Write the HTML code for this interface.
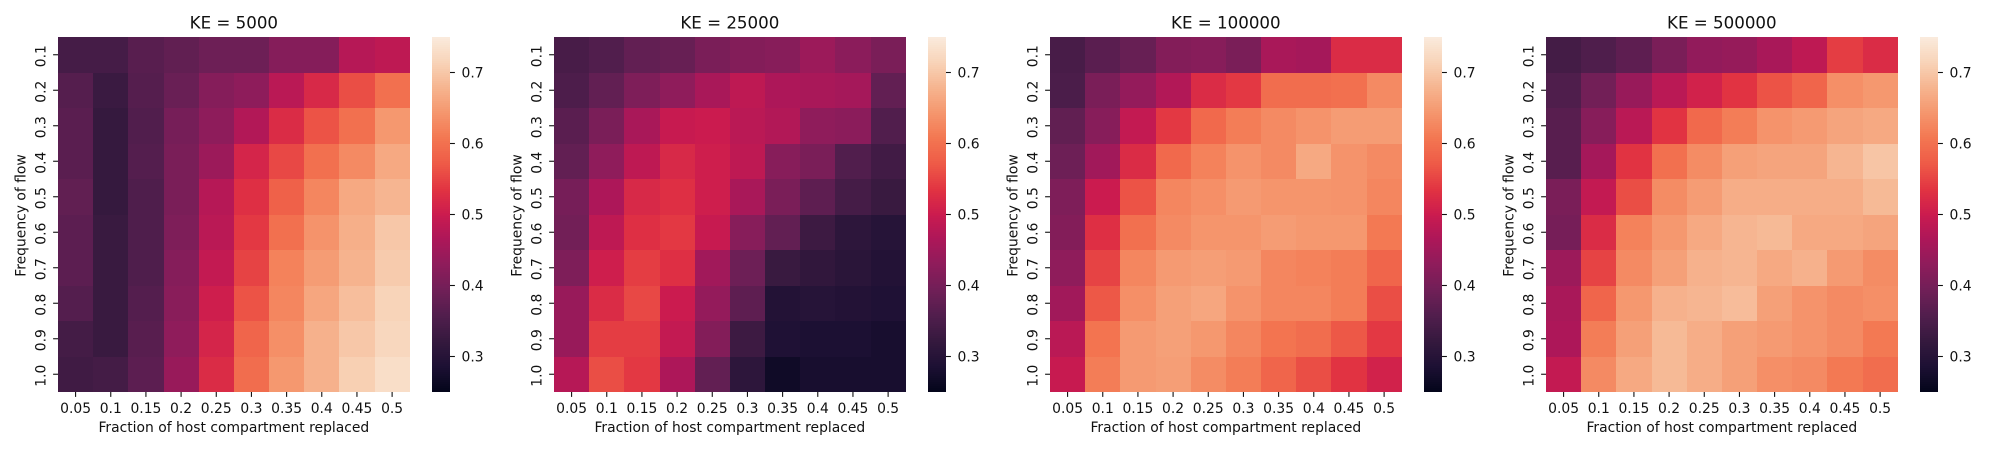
<!DOCTYPE html>
<html lang="en">
<head>
<meta charset="utf-8">
<title>Heatmaps by KE</title>
<style>
  html, body { margin: 0; padding: 0; background: #fff; width: 2000px; height: 450px; overflow: hidden; }
  svg { display: block; }
  text { font-family: "DejaVu Sans", "Liberation Sans", sans-serif; fill: #111; }
</style>
</head>
<body>
<svg id="figure" xmlns="http://www.w3.org/2000/svg" width="2000" height="450" viewBox="0 0 2000 450"></svg>
<script>
const xCategories = ["0.05","0.1","0.15","0.2","0.25","0.3","0.35","0.4","0.45","0.5"];
const yCategories = ["0.1","0.2","0.3","0.4","0.5","0.6","0.7","0.8","0.9","1.0"];
const colorbarTicks = [0.3,0.4,0.5,0.6,0.7];
const colorMin = 0.25;
const colorMax = 0.75;
const panelTitles = ["KE = 5000","KE = 25000","KE = 100000","KE = 500000"];
const xAxisTitle = "Fraction of host compartment replaced";
const yAxisTitle = "Frequency of flow";

const valuesKE5000 = [
  [.342,.342,.365,.375,.39,.39,.418,.418,.475,.485],
  [.362,.328,.362,.385,.418,.428,.48,.52,.56,.60],
  [.367,.322,.357,.4,.428,.47,.525,.565,.60,.645],
  [.367,.322,.36,.405,.445,.515,.555,.60,.63,.665],
  [.375,.322,.355,.405,.475,.53,.58,.625,.665,.68],
  [.37,.327,.355,.41,.48,.54,.60,.64,.672,.7],
  [.37,.327,.355,.418,.49,.55,.62,.65,.677,.705],
  [.36,.327,.36,.422,.505,.565,.625,.662,.69,.715],
  [.34,.327,.365,.43,.515,.585,.635,.675,.7,.72],
  [.335,.34,.37,.44,.525,.595,.645,.675,.71,.73]
];
const valuesKE25000 = [
  [.345,.357,.377,.382,.405,.415,.42,.445,.425,.405],
  [.352,.377,.41,.43,.46,.485,.465,.46,.455,.377],
  [.367,.405,.46,.495,.50,.48,.47,.43,.425,.357],
  [.377,.43,.485,.52,.505,.485,.42,.405,.357,.337],
  [.4,.465,.52,.53,.505,.46,.405,.372,.342,.327],
  [.395,.485,.53,.54,.495,.42,.377,.332,.31,.3],
  [.41,.505,.545,.53,.45,.39,.327,.315,.305,.295],
  [.44,.525,.555,.50,.435,.372,.295,.3,.295,.29],
  [.44,.545,.545,.49,.415,.332,.29,.285,.285,.28],
  [.475,.56,.54,.465,.377,.31,.268,.28,.28,.28]
];
const valuesKE100000 = [
  [.345,.367,.382,.415,.42,.405,.46,.455,.525,.525],
  [.35,.405,.435,.47,.525,.54,.595,.595,.60,.63],
  [.375,.42,.49,.54,.59,.615,.63,.64,.65,.65],
  [.39,.45,.525,.59,.62,.64,.63,.665,.64,.63],
  [.41,.50,.565,.625,.635,.648,.642,.642,.64,.625],
  [.415,.53,.60,.63,.642,.642,.65,.645,.645,.61],
  [.43,.55,.625,.648,.652,.648,.625,.62,.615,.585],
  [.45,.57,.635,.655,.662,.64,.625,.625,.615,.56],
  [.48,.605,.648,.655,.645,.625,.605,.595,.57,.54],
  [.495,.615,.648,.652,.632,.615,.585,.56,.535,.51]
];
const valuesKE500000 = [
  [.34,.355,.372,.405,.433,.438,.46,.485,.545,.525],
  [.355,.395,.44,.48,.51,.535,.565,.585,.635,.645],
  [.365,.42,.48,.535,.59,.615,.64,.648,.66,.665],
  [.365,.455,.535,.60,.632,.655,.66,.66,.68,.698],
  [.405,.49,.56,.632,.65,.67,.67,.67,.67,.685],
  [.4,.525,.62,.645,.665,.68,.685,.665,.665,.66],
  [.445,.55,.63,.655,.675,.68,.665,.675,.648,.632],
  [.46,.585,.645,.675,.68,.688,.655,.64,.63,.635],
  [.465,.615,.655,.685,.67,.655,.648,.64,.63,.61],
  [.49,.63,.665,.685,.67,.655,.635,.63,.61,.595]
];

const svgNS = "http://www.w3.org/2000/svg";
const figure = document.getElementById("figure");

/* rocket colormap anchors: [position, r, g, b] */
const rocketAnchors = [
  [0,3,5,26],[0.07,28,16,51],[0.143,53,25,62],[0.214,81,30,77],[0.286,112,31,87],
  [0.357,142,28,91],[0.429,173,23,89],[0.5,203,27,79],[0.571,225,51,66],[0.643,238,90,71],
  [0.714,243,118,81],[0.786,245,150,109],[0.857,246,180,143],[0.93,248,212,185],[1,250,235,221]
];

function colorScale(v) {
  const t = Math.max(0, Math.min(1, (v - colorMin) / (colorMax - colorMin)));
  for (let k = 1; k < rocketAnchors.length; k++) {
    const a = rocketAnchors[k - 1];
    const b = rocketAnchors[k];
    if (t <= b[0]) {
      const f = (t - a[0]) / (b[0] - a[0]);
      const r = Math.round(a[1] + (b[1] - a[1]) * f);
      const g = Math.round(a[2] + (b[2] - a[2]) * f);
      const bl = Math.round(a[3] + (b[3] - a[3]) * f);
      return "rgb(" + r + "," + g + "," + bl + ")";
    }
  }
  return "rgb(250,235,221)";
}

function makeRect(parent, x, y, w, h, fill) {
  const el = document.createElementNS(svgNS, "rect");
  el.setAttribute("x", x);
  el.setAttribute("y", y);
  el.setAttribute("width", w);
  el.setAttribute("height", h);
  el.setAttribute("fill", fill);
  el.setAttribute("shape-rendering", "crispEdges");
  parent.appendChild(el);
  return el;
}

function makeLine(parent, x1, y1, x2, y2) {
  const el = document.createElementNS(svgNS, "line");
  el.setAttribute("x1", x1);
  el.setAttribute("y1", y1);
  el.setAttribute("x2", x2);
  el.setAttribute("y2", y2);
  el.setAttribute("stroke", "#111");
  el.setAttribute("stroke-width", "1.1");
  parent.appendChild(el);
  return el;
}

function makeText(parent, x, y, str, size, anchor, rotate) {
  const el = document.createElementNS(svgNS, "text");
  el.setAttribute("x", x);
  el.setAttribute("y", y);
  el.setAttribute("font-size", size);
  el.setAttribute("text-anchor", anchor);
  if (rotate) {
    el.setAttribute("transform", "rotate(-90 " + x + " " + y + ")");
  }
  el.textContent = str;
  parent.appendChild(el);
  return el;
}

const panelData = [valuesKE5000, valuesKE25000, valuesKE100000, valuesKE500000];
const firstLeft = 58;
const panelStep = 496;
const plotWidth = 351.7;
const plotTop = 37;
const plotHeight = 355;
const colorbarGap = 22;
const colorbarWidth = 17.6;

function drawPanel(values, title, index) {
  const left = firstLeft + index * panelStep;
  const xScale = function (i) { return left + i * plotWidth / xCategories.length; };
  const yScale = function (i) { return plotTop + i * plotHeight / yCategories.length; };
  const snapX = function (i) { return Math.round(xScale(i)); };
  const snapY = function (i) { return Math.round(yScale(i)); };

  const group = document.createElementNS(svgNS, "g");
  
  
  figure.appendChild(group);

  values.forEach(function (row, r) {
    row.forEach(function (v, c) {
      const cell = makeRect(group, snapX(c), snapY(r), snapX(c + 1) - snapX(c), snapY(r + 1) - snapY(r), colorScale(v));
      
      
    });
  });

  const titleEl = makeText(group, left + plotWidth / 2, 28.5, title, 16.67, "middle", false);
  
  

  xCategories.forEach(function (label, i) {
    const cx = xScale(i + 0.5);
    const tick = makeLine(group, cx, plotTop + plotHeight, cx, plotTop + plotHeight + 4.9);
    
    
    const tl = makeText(group, cx, 413, label, 13.89, "middle", false);
    
    
  });

  yCategories.forEach(function (label, i) {
    const cy = yScale(i + 0.5);
    const tick = makeLine(group, left - 4.9, cy, left, cy);
    
    
    const tl = makeText(group, left - 12.5, cy + 1.4, label, 13.89, "middle", true);
    
    
  });

  const xTitle = makeText(group, left + plotWidth / 2, 432, xAxisTitle, 13.89, "middle", false);
  
  

  const yTitle = makeText(group, left - 32.5, plotTop + plotHeight / 2 + 1, yAxisTitle, 13.89, "middle", true);
  
  

  /* colorbar */
  const cbLeft = left + plotWidth + colorbarGap;
  const cbScale = function (v) { return plotTop + plotHeight * (colorMax - v) / (colorMax - colorMin); };
  const cbGroup = document.createElementNS(svgNS, "g");
  
  
  group.appendChild(cbGroup);
  const levels = 178;
  for (let l = 0; l < levels; l++) {
    const vTop = colorMax - (colorMax - colorMin) * l / levels;
    const vBot = colorMax - (colorMax - colorMin) * (l + 1) / levels;
    const yT = Math.round(cbScale(vTop));
    const yB = Math.round(cbScale(vBot));
    const band = makeRect(cbGroup, Math.round(cbLeft), yT, Math.round(colorbarWidth), yB - yT, colorScale((vTop + vBot) / 2));
    
    
  }
  colorbarTicks.forEach(function (v) {
    const ty = cbScale(v);
    const x0 = Math.round(cbLeft) + Math.round(colorbarWidth);
    const tick = makeLine(cbGroup, x0, ty, x0 + 4.9, ty);
    
    
    const tl = makeText(cbGroup, x0 + 11.5, ty + 5, v.toFixed(1), 13.89, "start", false);
    
    
  });
}

panelData.forEach(function (values, index) {
  drawPanel(values, panelTitles[index], index);
});
</script>
</body>
</html>
